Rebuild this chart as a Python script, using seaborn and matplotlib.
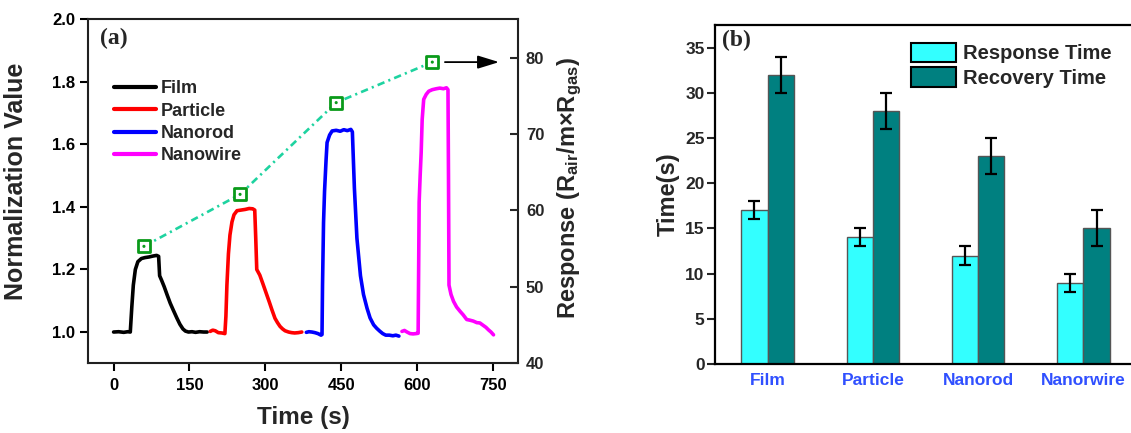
import matplotlib
matplotlib.use("Agg")
import matplotlib.pyplot as plt
import seaborn as sns
import pandas as pd

# ---------------- data: panel (a) ----------------
film_t = [0, 10, 20, 28, 33, 36, 39, 43, 48, 55, 62, 70, 78, 85, 89, 91, 95, 100, 106, 112, 118, 125, 131, 137, 142, 148, 155, 162, 170, 178, 185]
film_v = [1.000, 1.001, 0.999, 1.001, 1.000, 1.08, 1.15, 1.20, 1.225, 1.235, 1.238, 1.240, 1.243, 1.245, 1.242, 1.18, 1.165, 1.145, 1.118, 1.092, 1.07, 1.045, 1.025, 1.01, 1.003, 1.000, 1.001, 0.999, 1.001, 1.000, 1.000]

particle_t = [191, 196, 201, 207, 214, 220, 222, 224, 227, 230, 234, 238, 244, 252, 260, 268, 275, 279, 281, 283, 289, 295, 303, 308, 313, 319, 324, 329, 334, 339, 346, 352, 358, 365, 372]
particle_v = [1.002, 1.006, 1.004, 0.998, 0.997, 0.995, 1.05, 1.15, 1.25, 1.31, 1.352, 1.375, 1.388, 1.390, 1.392, 1.395, 1.394, 1.390, 1.30, 1.20, 1.182, 1.155, 1.118, 1.095, 1.071, 1.044, 1.030, 1.018, 1.010, 1.004, 1.000, 0.998, 0.997, 0.998, 1.000]

nanorod_t = [381, 386, 392, 398, 404, 410, 412, 413, 415, 417, 420, 422, 427, 432, 440, 448, 455, 462, 469, 472, 474, 476, 481, 488, 494, 501, 507, 514, 520, 526, 532, 538, 545, 552, 558, 564]
nanorod_v = [0.999, 1.001, 1.000, 0.998, 0.995, 0.990, 0.992, 1.15, 1.35, 1.45, 1.55, 1.606, 1.630, 1.643, 1.645, 1.642, 1.647, 1.644, 1.648, 1.640, 1.55, 1.46, 1.30, 1.18, 1.12, 1.076, 1.045, 1.023, 1.012, 1.003, 0.995, 0.990, 0.990, 0.988, 0.990, 0.987]

nanowire_t = [570, 575, 580, 586, 592, 598, 602, 603, 604, 606, 608, 610, 613, 618, 623, 630, 638, 645, 652, 658, 661, 662, 663, 667, 672, 678, 685, 691, 698, 704, 711, 718, 724, 730, 736, 741, 746, 751]
nanowire_v = [1.002, 1.005, 1.000, 0.995, 0.994, 0.995, 0.996, 1.20, 1.415, 1.50, 1.574, 1.68, 1.744, 1.760, 1.770, 1.775, 1.778, 1.780, 1.778, 1.781, 1.775, 1.50, 1.15, 1.12, 1.098, 1.080, 1.066, 1.055, 1.040, 1.038, 1.035, 1.030, 1.029, 1.022, 1.015, 1.007, 1.000, 0.991]

response_t = [60, 250, 440, 630]
response_val = [55.3, 62.1, 74.1, 79.4]

# ---------------- data: panel (b) ----------------
categories = ["Film", "Particle", "Nanorod", "Nanorwire"]
response_time = [17, 14, 12, 9]
response_err = [1, 1, 1, 1]
recovery_time = [32, 28, 23, 15]
recovery_err = [2, 2, 2, 2]

# ---------------- style ----------------
sns.set_theme(style="ticks")
plt.rcParams["font.family"] = ["Liberation Sans", "DejaVu Sans"]
plt.rcParams["font.weight"] = "bold"
plt.rcParams["axes.labelweight"] = "bold"
plt.rcParams["mathtext.fontset"] = "custom"
plt.rcParams["mathtext.rm"] = "Liberation Sans:bold"
plt.rcParams["mathtext.bf"] = "Liberation Sans:bold"
plt.rcParams["mathtext.it"] = "Liberation Sans:bold"

W, H = 1131, 433
fig = plt.figure(figsize=(W / 100, H / 100), dpi=100)
fig.patch.set_facecolor("white")

def rect(l, t, r, b):
    return [l / W, 1 - b / H, (r - l) / W, (b - t) / H]

# ================= panel (a) =================
ax1 = fig.add_axes(rect(88.3, 19.3, 518.3, 363.3))
ax1.set_facecolor("white")
series = [("Film", film_t, film_v, "black"),
          ("Particle", particle_t, particle_v, "#ff0000"),
          ("Nanorod", nanorod_t, nanorod_v, "#0000ff"),
          ("Nanowire", nanowire_t, nanowire_v, "#ff00ff")]
for name, t, v, c in series:
    sns.lineplot(x=t, y=v, ax=ax1, color=c, lw=2.6, label=name,
                 estimator=None, sort=False)

ax1.set_xlim(-50, 800)
ax1.set_ylim(0.9, 2.0)
ax1.set_xticks([0, 150, 300, 450, 600, 750])
ax1.set_yticks([1.0, 1.2, 1.4, 1.6, 1.8, 2.0])
ax1.set_yticklabels(["1.0", "1.2", "1.4", "1.6", "1.8", "2.0"])
ax1.tick_params(axis="both", direction="out", length=6, width=1.5,
                labelsize=12, colors="black")
ax1.tick_params(axis="x", pad=4.5)
ax1.tick_params(axis="y", pad=3.5)
for s in ax1.spines.values():
    s.set_linewidth(1.5)
    s.set_color("black")
    s.set_visible(True)
for lab in ax1.get_xticklabels() + ax1.get_yticklabels():
    lab.set_fontweight("bold")
ax1.set_xlabel("Time (s)", fontsize=17.5, fontweight="bold")
ax1.set_ylabel("Normalization Value", fontsize=18, fontweight="bold")
ax1.xaxis.set_label_coords(0.5, -0.125)
ax1.yaxis.set_label_coords(-0.14, 0.53)

leg1 = ax1.legend(loc="upper left", bbox_to_anchor=(0.059, 0.823),
                  frameon=False, fontsize=13, handlelength=2.35,
                  handletextpad=0.25, labelspacing=0.3, borderpad=0,
                  borderaxespad=0)
for line in leg1.get_lines():
    line.set_linewidth(3)
for txt in leg1.get_texts():
    txt.set_fontweight("bold")

ax1.text(0.027, 0.975, "(a)", transform=ax1.transAxes, ha="left", va="top",
         fontsize=17, fontweight="bold", family="Liberation Serif")

# right axis
ax1r = ax1.twinx()
ax1r.set_ylim(40, 85)
ax1r.set_yticks([40, 50, 60, 70, 80])
ax1r.tick_params(axis="y", direction="in", length=6, width=1.5,
                 labelsize=12, pad=5.5)
for lab in ax1r.get_yticklabels():
    lab.set_fontweight("bold")
ax1r.grid(False)
sns.lineplot(x=response_t, y=response_val, ax=ax1r, color="#1ed3a0", lw=1.9,
             estimator=None, sort=False, linestyle=(0, (2.8, 1.6, 0.8, 1.6)))
sns.scatterplot(x=response_t, y=response_val, ax=ax1r, marker="s", s=78,
                facecolor="white", edgecolor="#0a9a1a", linewidth=2, zorder=5)
sns.scatterplot(x=response_t, y=response_val, ax=ax1r, marker="o", s=5,
                color="#0a9a1a", edgecolor="none", zorder=6)
ax1r.annotate("", xy=(762, response_val[-1]), xytext=(655, response_val[-1]),
              arrowprops=dict(arrowstyle="-|>,head_length=0.65,head_width=0.2",
                              color="black", lw=1.3, mutation_scale=20,
                              shrinkA=0, shrinkB=0))
ax1r.set_ylabel(r"Response (R$_{\mathbf{air}}$/m×R$_{\mathbf{gas}}$)",
                fontsize=17, fontweight="bold", rotation=90)
ax1r.yaxis.set_label_coords(1.12, 0.511)
ax1r.yaxis.label.set_va("center")

# ================= panel (b) =================
ax2 = fig.add_axes(rect(715, 25, 1136, 364))
ax2.set_facecolor("white")
df = pd.DataFrame({
    "Material": categories * 2,
    "Time": response_time + recovery_time,
    "Err": response_err + recovery_err,
    "Kind": ["Response Time"] * 4 + ["Recovery Time"] * 4,
})
sns.barplot(data=df, x="Material", y="Time", hue="Kind", ax=ax2,
            palette=["#33ffff", "#008080"], width=0.5, errorbar=None,
            edgecolor="#555555", linewidth=1.0, saturation=1)

# error bars at the bar positions produced by seaborn
bars = [p for p in ax2.patches if p.get_width() > 0 and p.get_height() > 0]
bars = sorted(bars, key=lambda p: p.get_x())
centers = [p.get_x() + p.get_width() / 2 for p in bars]
heights = [p.get_height() for p in bars]
err_lookup = {}
for t_, e_ in zip(response_time + recovery_time, response_err + recovery_err):
    err_lookup.setdefault(t_, e_)
errs = [err_lookup[h] for h in heights]
ax2.errorbar(centers, heights, yerr=errs, fmt="none", ecolor="black",
             elinewidth=1.6, capsize=4.5, capthick=1.6, zorder=5)

ax2.set_xlim(-0.5, 3.5)
ax2.set_ylim(0, 37.5)
ax2.set_yticks([0, 5, 10, 15, 20, 25, 30, 35])
ax2.tick_params(axis="y", direction="out", length=6, width=1.5,
                labelsize=12.5, pad=1.5)
ax2.tick_params(axis="x", length=0, labelsize=12.5, pad=6.5,
                labelcolor="#3050ff")
for lab in ax2.get_xticklabels() + ax2.get_yticklabels():
    lab.set_fontweight("bold")
for s in ax2.spines.values():
    s.set_linewidth(1.6)
    s.set_color("black")
    s.set_visible(True)
ax2.set_xlabel("")
ax2.set_ylabel("Time(s)", fontsize=17, fontweight="bold")
ax2.yaxis.set_label_coords(-0.083, 0.5)

leg2 = ax2.legend(loc="upper left", bbox_to_anchor=(0.465, 0.948),
                  frameon=False, fontsize=14.5, handlelength=2.25,
                  handleheight=1.1, handletextpad=0.35, labelspacing=0.2,
                  borderpad=0, borderaxespad=0, title=None)
for h in leg2.legend_handles:
    h.set_edgecolor("black")
    h.set_linewidth(1.5)
for txt in leg2.get_texts():
    txt.set_fontweight("bold")

ax2.text(0.016, 0.985, "(b)", transform=ax2.transAxes, ha="left", va="top",
         fontsize=17, fontweight="bold", family="Liberation Serif")

fig.savefig("out.png", dpi=100, facecolor="white")
